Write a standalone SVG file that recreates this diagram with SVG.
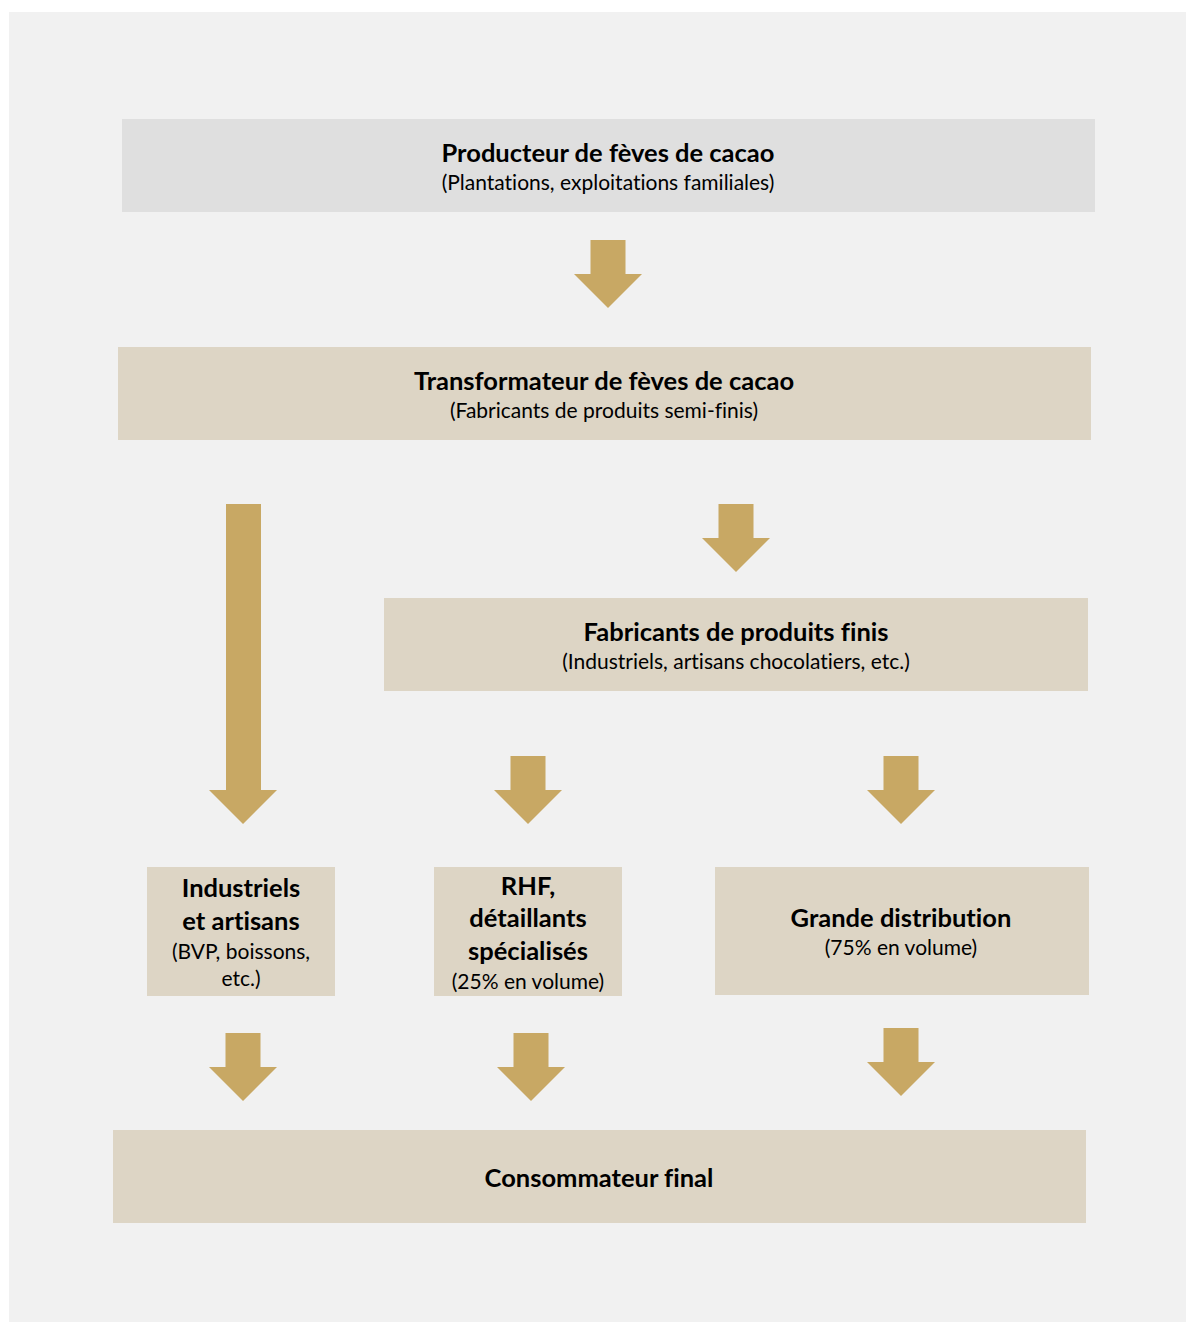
<svg xmlns="http://www.w3.org/2000/svg" width="1186" height="1322" viewBox="0 0 1186 1322">
<style>
.bg{fill:#f1f1f1}
.box{fill:#ddd5c5}
.boxg{fill:#dfdfdf}
.arr{fill:#c8a864}
text{font-family:Lato,"Open Sans","Liberation Sans",sans-serif;fill:#000;text-anchor:middle;font-variant-ligatures:none}
.t{font-weight:bold;font-size:25.5px}
.s{font-size:21px}
</style>
<defs>
<path id="arrow" d="M-17.5,0 H17.5 V34 H34 L0,68 L-34,34 H-17.5 Z"/>
</defs>
<rect class="bg" x="9" y="12" width="1177" height="1310"/>
<g id="producteur">
<rect class="boxg" x="122" y="119" width="973" height="93"/>
<text class="t" x="608" y="162">Producteur de fèves de cacao</text>
<text class="s" x="608" y="190">(Plantations, exploitations familiales)</text>
</g>
<g id="transformateur">
<rect class="box" x="118" y="347" width="973" height="93"/>
<text class="t" x="604" y="390">Transformateur de fèves de cacao</text>
<text class="s" x="604" y="418">(Fabricants de produits semi-finis)</text>
</g>
<g id="fabricants">
<rect class="box" x="384" y="598" width="704" height="93"/>
<text class="t" x="736" y="641">Fabricants de produits finis</text>
<text class="s" x="736" y="669">(Industriels, artisans chocolatiers, etc.)</text>
</g>
<g id="industriels">
<rect class="box" x="147" y="867" width="188" height="129"/>
<text class="t" x="241" y="897">Industriels</text>
<text class="t" x="241" y="930">et artisans</text>
<text class="s" x="241" y="959">(BVP, boissons,</text>
<text class="s" x="241" y="986">etc.)</text>
</g>
<g id="rhf">
<rect class="box" x="434" y="867" width="188" height="129"/>
<text class="t" x="528" y="895">RHF,</text>
<text class="t" x="528" y="927">détaillants</text>
<text class="t" x="528" y="960">spécialisés</text>
<text class="s" x="528" y="989">(25% en volume)</text>
</g>
<g id="grande">
<rect class="box" x="715" y="867" width="374" height="128"/>
<text class="t" x="901" y="927">Grande distribution</text>
<text class="s" x="901" y="955">(75% en volume)</text>
</g>
<g id="consommateur">
<rect class="box" x="113" y="1130" width="973" height="93"/>
<text class="t" x="599" y="1187">Consommateur final</text>
</g>
<g id="connectors" class="arr">
<use href="#arrow" x="608" y="240"/>
<path d="M226,504 H261 V790 H277 L243,824 L209,790 H226 Z"/>
<use href="#arrow" x="736" y="504"/>
<use href="#arrow" x="528" y="756"/>
<use href="#arrow" x="901" y="756"/>
<use href="#arrow" x="243" y="1033"/>
<use href="#arrow" x="531" y="1033"/>
<use href="#arrow" x="901" y="1028"/>
</g>
</svg>
